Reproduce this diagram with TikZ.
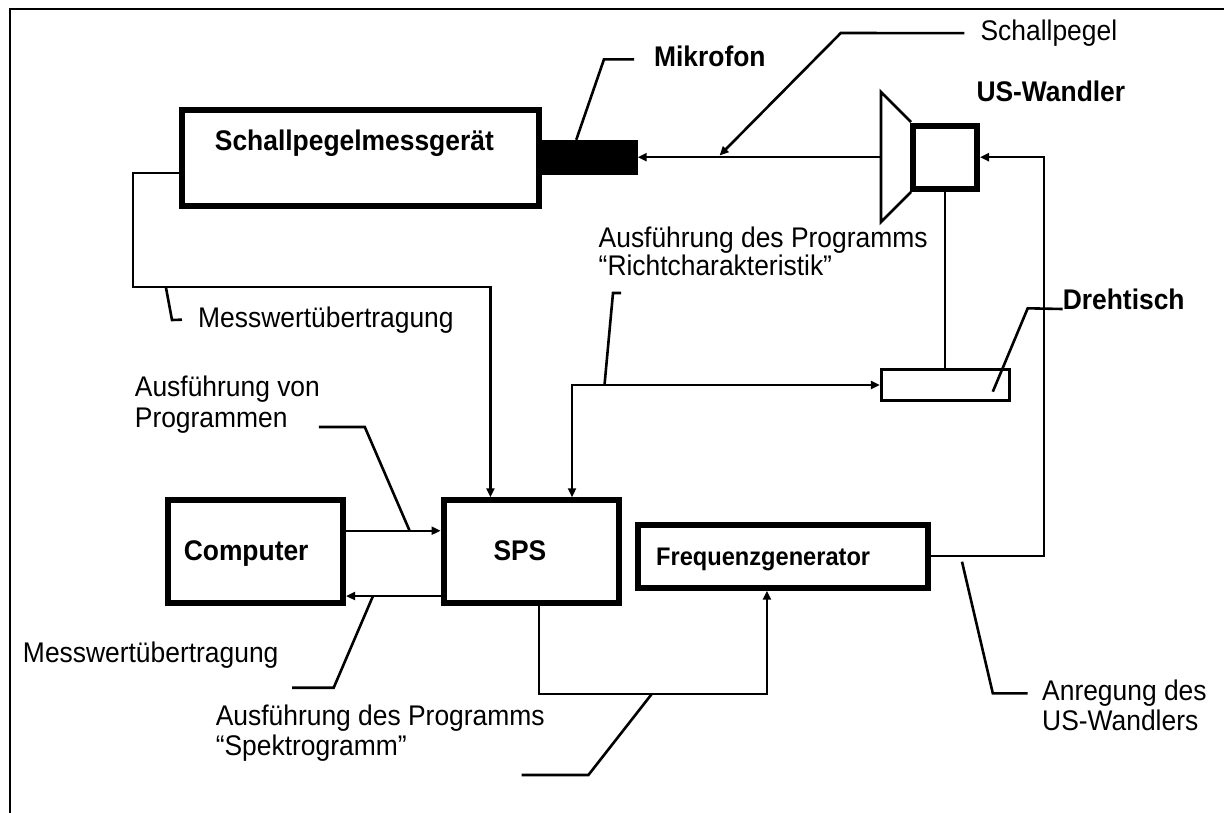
\documentclass[tikz,border=0pt]{standalone}
\usepackage{fontspec}
\setmainfont{Liberation Sans}[FakeStretch=0.93]
\usetikzlibrary{arrows.meta}
\begin{document}
\begin{tikzpicture}[x=1pt,y=-1pt,
  every node/.style={inner sep=0pt},
  box/.style={draw, line width=6pt, fill=white},
  txt/.style={anchor=base west, font=\fontsize{28.4}{30}\selectfont},
  btxt/.style={anchor=base west, font=\fontsize{28.4}{30}\selectfont\bfseries},
  conn/.style={line width=2.2pt},
  lead/.style={line width=2.6pt},
  tip/.tip={Triangle[length=9pt,width=8pt]},
  arr/.style={-tip},
  dblarr/.style={tip-tip},
]
\useasboundingbox (0,0) rectangle (1224,812);
\clip (0,0) rectangle (1224,812);
% frame
\draw[line width=2pt] (10,830) -- (10,9) -- (1240,9);

% boxes
\node[box, minimum width=357pt, minimum height=96pt] (spm) at (360.5,158) {};
\node[fill=black, minimum width=96.5pt, minimum height=35pt] (mic) at (589.25,157.5) {};
\draw[line width=2.7pt, line join=miter] (911,122) -- (881,92) -- (881,222) -- (911,192);
\coordinate (trL) at (881,157.2);
\node[box, minimum width=64pt, minimum height=63pt] (us) at (945,157.2) {};
\node[draw, line width=3pt, minimum width=128.4pt, minimum height=30.4pt] (dreh) at (945.5,385) {};
\node[box, minimum width=175.4pt, minimum height=102.7pt] (comp) at (255.3,551.6) {};
\node[box, minimum width=175.2pt, minimum height=102.7pt] (sps) at (531.2,551.6) {};
\node[box, minimum width=290pt, minimum height=63pt] (fg) at (783,556.2) {};

% texts
\node[btxt] (tspm) at (214.7,150) {Schallpegelmessgerät};
\node[btxt] (tmik) at (653.9,66) {Mikrofon};
\node[txt] (tsp) at (980.4,40) {Schallpegel};
\node[btxt] (tus) at (976.3,101) {US-Wandler};
\node[txt] (trich1) at (598.5,247) {Ausführung des Programms};
\node[txt] (trich2) at (598.5,275) {“Richtcharakteristik”};
\node[btxt] (tdreh) at (1062.6,309) {Drehtisch};
\node[txt] (tmw1) at (198,327) {Messwertübertragung};
\node[txt] (tavp1) at (134.7,396) {Ausführung von};
\node[txt] (tavp2) at (134.7,427) {Programmen};
\node[btxt] (tcomp) at (183.6,560) {Computer};
\node[btxt] (tsps) at (493.3,560) {SPS};
\node[btxt, font=\fontsize{25.4}{27}\selectfont\bfseries] (tfg) at (656,565) {Frequenzgenerator};
\node[txt] (tmw2) at (22.8,662) {Messwertübertragung};
\node[txt] (tspek1) at (215.6,725) {Ausführung des Programms};
\node[txt] (tspek2) at (215.6,755) {“Spektrogramm”};
\node[txt] (tanr1) at (1042,700) {Anregung des};
\node[txt] (tanr2) at (1042,730) {US-Wandlers};

% connectors
\draw[conn,arr] (trL) -- (trL -| mic.east);
\draw[conn,arr] ([yshift=-14.7pt]spm.west) -| (132.6,286.7) -| ([xshift=-40.8pt]sps.north);
\draw[conn] (us.south) -- (us.south |- dreh.north);
\draw[conn,arr] (fg.east) -- ++(113,0) |- (us.east);
\draw[conn,dblarr] ([xshift=40.8pt]sps.north) |- (dreh.west);
\draw[conn,arr] ([yshift=20.9pt]comp.east) -- ([yshift=20.9pt]sps.west);
\draw[conn,arr] ([yshift=-44.4pt]sps.west) -- ([yshift=-44.4pt]comp.east);
\draw[conn,arr] ([xshift=7.7pt]sps.south) |- (700,693.8) -| ([xshift=-16.1pt]fg.south);

% leaders
\draw[lead,arr] ([xshift=-16pt,yshift=-0.5pt]tsp.west) -- (840.8,33) -- (719.6,155.5);
\draw[lead] ([xshift=-13pt]mic.north) -- (604,59.3) -- (634,59.3);
\draw[lead] (tdreh.base west) -- (1027.7,308.3) -- (992.8,391.7);
\draw[lead] (165.8,286.7) -- (172,320) -- ([xshift=-16pt]tmw1.west);
\draw[lead] ([xshift=31pt]tavp2.base east) -- (364.8,427) -- (409.6,530.7);
\draw[lead] (373,596) -- (333.7,687.7) -- (292.2,687.7);
\draw[lead] (621,293) -- (613,293) -- (604.5,385);
\draw[lead] (521.5,775) -- (588.4,775) -- (651.9,693.8);
\draw[lead] (962,561.7) -- (992.8,693.3) -- (1027.7,693.3);
\end{tikzpicture}
\end{document}
